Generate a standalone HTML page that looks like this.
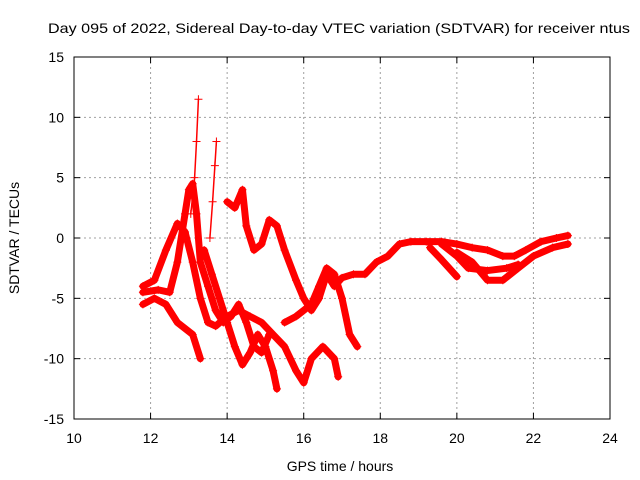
<!DOCTYPE html>
<html><head><meta charset="utf-8"><style>
body{margin:0;background:#fff}
svg{display:block;font-family:"Liberation Sans",sans-serif}
</style></head><body>
<svg id="chart" width="640" height="480" viewBox="0 0 640 480">
<rect width="640" height="480" fill="#fff"/>
<text x="48" y="33" font-size="14" textLength="582" lengthAdjust="spacingAndGlyphs">Day 095 of 2022, Sidereal Day-to-day VTEC variation (SDTVAR) for receiver ntus</text>
<g id="grid"></g><g id="axes"></g><g id="series"></g>
<text x="340" y="471" font-size="14" text-anchor="middle">GPS time / hours</text>
<text transform="translate(19,238) rotate(-90)" font-size="14" text-anchor="middle">SDTVAR / TECUs</text>
</svg>
<script>
const xTicks=[10,12,14,16,18,20,22,24];
const yTicks=[15,10,5,0,-5,-10,-15];
const seriesA=[[11.8,-4],[12.1,-3.5],[12.4,-1],[12.7,1.2],[12.9,0.5],[13.1,-2],[13.3,-5],[13.5,-7],[13.7,-7.3],[14.0,-6.5],[14.3,-6],[14.6,-6.5],[14.9,-7],[15.2,-8],[15.5,-9],[15.8,-11],[16.0,-12],[16.2,-10],[16.5,-9],[16.8,-10],[16.9,-11.5]];
const seriesB=[[11.8,-4.5],[12.2,-4.3],[12.5,-4.5],[12.7,-2],[12.9,2],[13.0,4],[13.1,4.5],[13.2,2],[13.3,-2],[13.5,-4],[13.7,-6],[13.9,-7],[14.1,-6.5],[14.3,-5.5],[14.5,-7],[14.7,-9],[14.9,-9.5],[15.1,-8]];
const seriesC=[[11.8,-5.5],[12.1,-5],[12.4,-5.5],[12.7,-7],[12.9,-7.5],[13.1,-8],[13.3,-10]];
const seriesD=[[13.4,-1],[13.6,-3],[13.8,-5],[14.0,-7],[14.2,-9],[14.4,-10.5],[14.6,-9.5],[14.8,-8],[15.0,-9],[15.2,-11],[15.3,-12.5]];
const seriesE=[[14.0,3],[14.2,2.5],[14.4,4],[14.5,1],[14.7,-1],[14.9,-0.5],[15.1,1.5],[15.3,1],[15.5,-1],[15.8,-3.5],[16.0,-5],[16.2,-6],[16.4,-5],[16.6,-3],[16.8,-4],[17.0,-3.3],[17.3,-3],[17.6,-3],[17.9,-2],[18.2,-1.5],[18.5,-0.5],[18.8,-0.3],[19.2,-0.3],[19.6,-0.3],[20.0,-0.5],[20.4,-0.8],[20.8,-1],[21.2,-1.5],[21.5,-1.5],[21.8,-1],[22.2,-0.3],[22.6,0],[22.9,0.2]];
const seriesF=[[15.5,-7],[15.8,-6.5],[16.0,-6],[16.2,-5.5],[16.4,-4],[16.6,-2.5],[16.8,-3],[17.0,-5],[17.2,-8],[17.4,-9]];
const seriesG=[[19.3,-0.8],[19.6,-1.8],[20.0,-3.2]];
const seriesH=[[19.6,-0.5],[20.0,-1.5],[20.3,-2.5],[20.8,-2.7],[21.3,-2.5],[21.6,-2.2]];
const seriesI=[[20.0,-1.2],[20.4,-2],[20.8,-3.5],[21.2,-3.5],[21.6,-2.5],[22,-1.5],[22.5,-0.8],[22.9,-0.5]];
const spike1=[[13.05,2],[13.15,5],[13.2,8],[13.25,11.5]];
const spike2=[[13.55,0],[13.62,3],[13.68,6],[13.72,8]];
const allSeries=[seriesA,seriesB,seriesC,seriesD,seriesE,seriesF,seriesG,seriesH,seriesI,spike1,spike2];
const NS='http://www.w3.org/2000/svg';
const X0=74,X1=610,Y0=57,Y1=419;
const sx=h=>X0+(h-10)/14*(X1-X0);
const sy=v=>Y0+(15-v)/30*(Y1-Y0);
function mk(t,a,p){const e=document.createElementNS(NS,t);for(const k in a)e.setAttribute(k,a[k]);p.appendChild(e);return e;}
const grid=document.getElementById('grid'),axes=document.getElementById('axes'),ser=document.getElementById('series');
xTicks.forEach(t=>{const x=sx(t);
 if(t>10&&t<24){const g=mk('line',{x1:x,x2:x,y1:Y0,y2:Y1,stroke:'#a0a0a0','stroke-dasharray':'2,3'},grid);}
 const l=mk('text',{x:x,y:Y1+24,'font-size':14,'text-anchor':'middle'},axes);l.textContent=t;
 
 mk('line',{x1:x,x2:x,y1:Y1,y2:Y1-6,stroke:'#000'},axes);mk('line',{x1:x,x2:x,y1:Y0,y2:Y0+6,stroke:'#000'},axes);});
yTicks.forEach(t=>{const y=sy(t);
 if(t<15&&t>-15){const g=mk('line',{x1:X0,x2:X1,y1:y,y2:y,stroke:'#a0a0a0','stroke-dasharray':'2,3'},grid);}
 const l=mk('text',{x:X0-10,y:y+5,'font-size':14,'text-anchor':'end'},axes);l.textContent=t;
 
 mk('line',{x1:X0,x2:X0+6,y1:y,y2:y,stroke:'#000'},axes);mk('line',{x1:X1,x2:X1-6,y1:y,y2:y,stroke:'#000'},axes);});
const fr=mk('rect',{x:X0,y:Y0,width:X1-X0,height:Y1-Y0,fill:'none',stroke:'#000'},axes);

allSeries.forEach((s,i)=>{
 const isSpike=i>=9;
 const pl=mk('polyline',{points:s.map(p=>sx(p[0])+','+sy(p[1])).join(' '),fill:'none',stroke:'#f00','stroke-width':isSpike?1.5:7,'stroke-linejoin':'round','stroke-linecap':'round'},ser);
 
 
 s.forEach(p=>{const x=sx(p[0]),y=sy(p[1]);
  const m=mk('path',{d:`M${x-4},${y}h8M${x},${y-4}v8`,stroke:'#f00','stroke-width':1},ser);
  
  });
});
</script>
</body></html>
